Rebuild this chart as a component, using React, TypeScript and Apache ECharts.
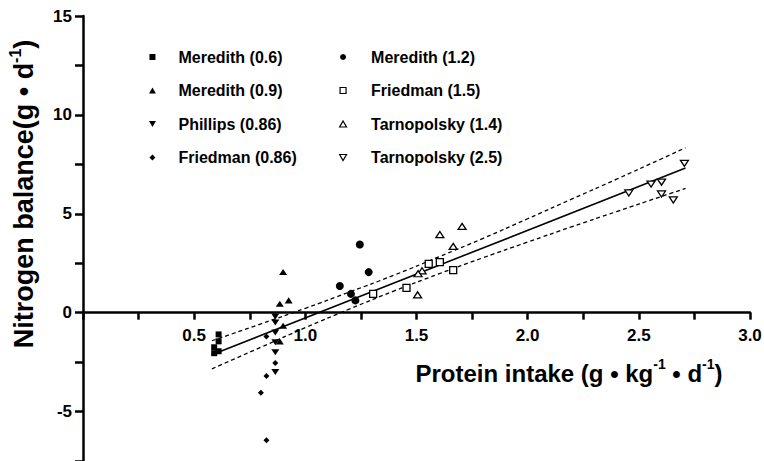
import React, { useEffect, useRef } from 'react';
import * as echarts from 'echarts';

// ---- data ----
const meredith06 = [[0.61, -1.1], [0.61, -1.45], [0.59, -1.75], [0.59, -2.05], [0.61, -1.95]];
const meredith09 = [[0.9, 2.06], [0.925, 0.62], [0.885, 0.45], [0.9, -0.66], [0.885, -1.45]];
const phillips086 = [[0.865, -0.2], [0.865, -0.5], [0.865, -1.0], [0.865, -1.5], [0.865, -2.0], [0.865, -3.0]];
const friedman086 = [[0.825, -1.2], [0.865, -2.55], [0.825, -3.2], [0.8, -4.05], [0.825, -6.45]];
const meredith12 = [[1.245, 3.45], [1.285, 2.05], [1.155, 1.35], [1.205, 0.95], [1.225, 0.62]];
const friedman15 = [[1.305, 0.95], [1.455, 1.25], [1.555, 2.47], [1.605, 2.56], [1.665, 2.15]];
const tarnopolsky14 = [[1.705, 4.36], [1.605, 3.95], [1.665, 3.35], [1.525, 2.12], [1.507, 1.97], [1.505, 0.9]];
const tarnopolsky25 = [[2.455, 6.05], [2.555, 6.5], [2.602, 6.6], [2.602, 6.0], [2.655, 5.7], [2.705, 7.55]];

const fitX = [0.58, 2.71];
const fitY = [-2.13, 7.31];
const bandX = [0.58, 0.8, 1.0, 1.2, 1.4, 1.6, 1.8, 2.0, 2.2, 2.4, 2.6, 2.71];
const bandUpper = [-1.42, -0.57, 0.22, 1.05, 1.9, 2.82, 3.76, 4.75, 5.75, 6.75, 7.77, 8.34];
const bandLower = [-2.84, -1.75, -0.76, 0.19, 1.1, 1.96, 2.78, 3.57, 4.35, 5.11, 5.87, 6.28];

const xTickLabels = ['0.5', '1.0', '1.5', '2.0', '2.5', '3.0'];
const yTickLabels = ['-5', '0', '5', '10', '15'];

const legendCol1 = ['Meredith (0.6)', 'Meredith (0.9)', 'Phillips (0.86)', 'Friedman (0.86)'];
const legendCol2 = ['Meredith (1.2)', 'Friedman (1.5)', 'Tarnopolsky (1.4)', 'Tarnopolsky (2.5)'];

const FONT = '"Liberation Sans", Arial, Helvetica, sans-serif';
const SQ = 'path://M0,0L10,0L10,10L0,10Z';
const TRI = 'path://M5,0L10,8.66L0,8.66Z';
const ITRI = 'path://M0,0L10,0L5,8.66Z';
const DIA = 'path://M5,0L10,5L5,10L0,5Z';

const filled = { color: '#000', borderWidth: 0 };
const open = { color: '#fff', borderColor: '#000', borderWidth: 1.3 };

const scatterDefs = [
  { name: 'Meredith (0.6)', data: meredith06, symbol: SQ, size: [6, 6], style: filled },
  { name: 'Meredith (0.9)', data: meredith09, symbol: TRI, size: [8, 7], style: filled },
  { name: 'Phillips (0.86)', data: phillips086, symbol: ITRI, size: [8, 7], style: filled },
  { name: 'Friedman (0.86)', data: friedman086, symbol: DIA, size: [6, 6], style: filled },
  { name: 'Meredith (1.2)', data: meredith12, symbol: 'circle', size: 8, style: filled },
  { name: 'Friedman (1.5)', data: friedman15, symbol: SQ, size: [7, 7], style: open },
  { name: 'Tarnopolsky (1.4)', data: tarnopolsky14, symbol: TRI, size: [8, 7], style: open },
  { name: 'Tarnopolsky (2.5)', data: tarnopolsky25, symbol: ITRI, size: [8, 7], style: open },
];

const openNames = ['Friedman (1.5)', 'Tarnopolsky (1.4)', 'Tarnopolsky (2.5)'];

function legendData(names: string[]) {
  return names.map((n) =>
    openNames.includes(n) ? { name: n, itemStyle: { borderWidth: 1.2, borderColor: '#000', color: '#fff' } } : { name: n }
  );
}

const legendText = { fontFamily: FONT, fontWeight: 'bold', fontSize: 16, color: '#000' };

export default function App() {
  const ref = useRef<HTMLDivElement>(null);

  useEffect(() => {
    if (!ref.current) return;
    const chart = echarts.init(ref.current, null, { renderer: 'svg' });

    const lineSeries = [
      {
        type: 'line',
        name: 'fit',
        data: fitX.map((x, i) => [x, fitY[i]]),
        showSymbol: false,
        symbol: 'none',
        lineStyle: { color: '#000', width: 1.6, type: 'solid' },
        z: 1,
        silent: true,
      },
      {
        type: 'line',
        name: 'upper',
        data: bandX.map((x, i) => [x, bandUpper[i]]),
        showSymbol: false,
        symbol: 'none',
        smooth: true,
        lineStyle: { color: '#000', width: 1.3, type: [4, 3] },
        z: 1,
        silent: true,
      },
      {
        type: 'line',
        name: 'lower',
        data: bandX.map((x, i) => [x, bandLower[i]]),
        showSymbol: false,
        symbol: 'none',
        smooth: true,
        lineStyle: { color: '#000', width: 1.3, type: [4, 3] },
        z: 1,
        silent: true,
      },
    ];

    const scatterSeries = scatterDefs.map((d) => ({
      type: 'scatter',
      name: d.name,
      data: d.data,
      symbol: d.symbol,
      symbolSize: d.size,
      symbolKeepAspect: true,
      itemStyle: { ...d.style, opacity: 1 },
      z: 3,
      silent: true,
    }));

    const option: any = {
      animation: false,
      backgroundColor: '#fff',
      grid: {
        left: 83,
        right: 14,
        top: 16,
        bottom: 0,
        containLabel: false,
        outerBoundsMode: 'none',
      },
      legend: [
        {
          orient: 'vertical',
          left: 144,
          top: 44,
          itemWidth: 42,
          itemHeight: 6,
          itemGap: 17.5,
          selectedMode: false,
          textStyle: legendText,
          data: legendData(legendCol1),
        },
        {
          orient: 'vertical',
          left: 334,
          top: 44,
          itemWidth: 46,
          itemHeight: 6,
          itemGap: 17.5,
          selectedMode: false,
          textStyle: legendText,
          data: legendData(legendCol2),
        },
      ],
      xAxis: {
        type: 'value',
        min: 0,
        max: 3,
        interval: 0.25,
        splitLine: { show: false },
        axisLine: { show: true, onZero: true, lineStyle: { color: '#000', width: 2.5 } },
        axisTick: { show: true, inside: false, length: 7, lineStyle: { color: '#000', width: 2.5 } },
        axisLabel: {
          show: true,
          margin: -134,
          color: '#000',
          fontFamily: FONT,
          fontWeight: 'bold',
          fontSize: 17,
          formatter: (v: number) => {
            const s = v.toFixed(1);
            return xTickLabels.includes(s) && Math.abs(v * 2 - Math.round(v * 2)) < 1e-6 ? s : '';
          },
        },
      },
      yAxis: {
        type: 'value',
        min: -7.5,
        max: 15,
        interval: 2.5,
        splitLine: { show: false },
        axisLine: { show: true, onZero: false, lineStyle: { color: '#000', width: 2.5 } },
        axisTick: { show: true, inside: false, length: 8, lineStyle: { color: '#000', width: 2.5 } },
        axisLabel: {
          show: true,
          margin: 11,
          color: '#000',
          fontFamily: FONT,
          fontWeight: 'bold',
          fontSize: 17,
          formatter: (v: number) => {
            const s = String(Math.round(v * 100) / 100);
            return yTickLabels.includes(s) ? s : '';
          },
        },
      },
      graphic: [
        {
          type: 'text',
          x: 569,
          y: 373,
          silent: true,
          style: {
            text: '{a|Protein intake (g • kg}{s|-1}{a| • d}{s|-1}{a|)}',
            align: 'center',
            verticalAlign: 'middle',
            fill: '#000',
            rich: {
              a: { fontFamily: FONT, fontWeight: 'bold', fontSize: 24, lineHeight: 32, fill: '#000' },
              s: { fontFamily: FONT, fontWeight: 'bold', fontSize: 14, lineHeight: 14, verticalAlign: 'top', fill: '#000' },
            },
          },
        },
        {
          type: 'text',
          x: 24,
          y: 194,
          rotation: Math.PI / 2,
          silent: true,
          style: {
            text: '{a|Nitrogen balance(g • d}{s|-1}{a|)}',
            align: 'center',
            verticalAlign: 'middle',
            fill: '#000',
            rich: {
              a: { fontFamily: FONT, fontWeight: 'bold', fontSize: 27, lineHeight: 34, fill: '#000' },
              s: { fontFamily: FONT, fontWeight: 'bold', fontSize: 16, lineHeight: 16, verticalAlign: 'top', fill: '#000' },
            },
          },
        },
      ],
      series: [...lineSeries, ...scatterSeries],
    };

    chart.setOption(option);
    return () => chart.dispose();
  }, []);

  return (
    <div
      ref={ref}
      style={{ position: 'fixed', left: 0, top: 0, width: 764, height: 461, background: '#fff' }}
    />
  );
}
